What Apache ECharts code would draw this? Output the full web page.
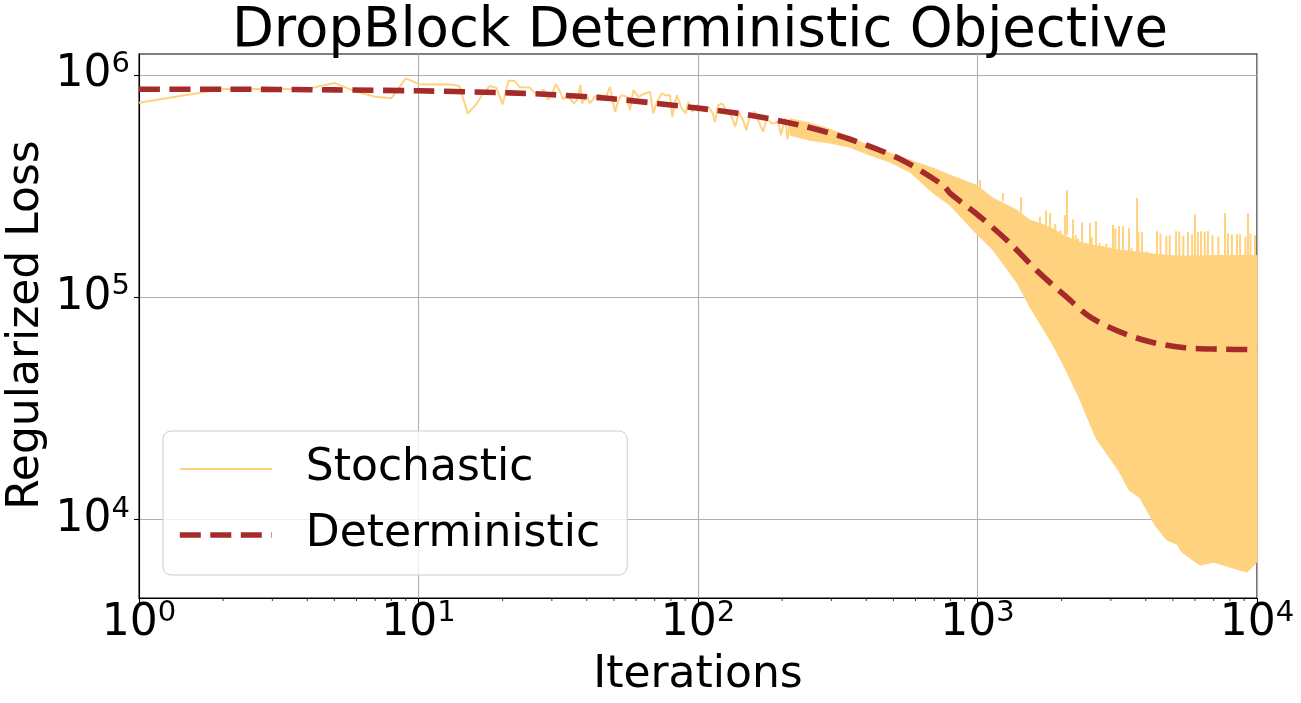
<!DOCTYPE html>
<html style="height: 100%">
<head>
<meta charset="utf-8">
</head>
<body style="height: 100%; margin: 0; background: #fff">
<div id="container" style="width: 1301px; height: 703px"></div>
<script type="text/javascript" src="https://cdn.jsdelivr.net/npm/echarts@6/dist/echarts.min.js"></script>
<script type="text/javascript">
// stochastic loss, early part: individual iterations
var stochIter = [1, 2, 3, 4, 5, 6, 7, 8, 9, 10, 11, 12, 13, 14, 15, 16, 17, 18, 19, 20, 21, 22, 23, 24,
    25, 26, 27, 28, 29, 30, 31, 32, 33, 34, 36, 37, 38, 38.5, 40, 41, 43, 44.6, 46.5, 48.4, 50.5, 51.9,
    53.3, 55.6, 57.1, 58.7, 61.2, 64.6, 67.4, 69.2, 71.2, 74.2, 76.2, 79.4, 80.9, 83.9, 87.4, 90.4, 92.3,
    95.4, 98.9, 103, 109, 113, 115, 118, 122, 127, 132, 136, 140, 145, 149, 154, 160, 164, 171, 176,
    184, 194, 198, 205, 209, 213, 219];
var stochLoss = [7.48e5, 8.64e5, 8.64e5, 8.64e5, 9.19e5, 8.38e5, 7.96e5, 7.85e5, 9.63e5, 9.10e5, 9.04e5,
    9.07e5, 9.04e5, 8.91e5, 6.70e5, 7.30e5, 8.24e5, 8.91e5, 8.73e5, 7.36e5, 9.39e5, 9.39e5, 8.82e5, 8.79e5,
    8.77e5, 8.29e5, 8.18e5, 8.59e5, 7.74e5, 8.10e5, 9.07e5, 8.47e5, 7.74e5, 8.10e5, 7.43e5, 7.74e5, 8.98e5,
    7.43e5, 8.10e5, 7.43e5, 8.01e5, 8.10e5, 7.74e5, 8.82e5, 6.81e5, 7.69e5, 8.10e5, 7.96e5, 6.93e5, 8.53e5,
    7.96e5, 8.24e5, 8.38e5, 6.70e5, 7.55e5, 8.24e5, 8.10e5, 8.10e5, 6.47e5, 8.10e5, 7.06e5, 6.70e5, 7.55e5,
    6.81e5, 7.30e5, 7.06e5, 7.17e5, 6.70e5, 6.14e5, 7.30e5, 7.43e5, 6.81e5, 6.47e5, 5.83e5, 6.81e5, 6.25e5,
    5.64e5, 6.70e5, 6.81e5, 6.25e5, 5.54e5, 6.36e5, 6.04e5, 6.14e5, 5.35e5, 6.36e5, 5.12e5, 6.25e5, 5.93e5];

// stochastic loss, dense part: lower / upper envelope of the oscillation
var bandIter = [213.4, 251.6, 296.7, 349.9, 412.6, 486.4, 573.5, 693.2, 797.3, 987.7, 1136, 1385, 1541,
    1730, 1847, 2023, 2307, 2655, 3209, 3483, 3815, 4008, 4317, 4764, 5173, 5392, 6254, 7019, 8480, 9210, 10000];
var bandLow = [5.35e5, 5.08e5, 4.93e5, 4.72e5, 4.35e5, 4.05e5, 3.65e5, 2.94e5, 2.59e5, 1.94e5, 1.63e5,
    1.16e5, 9.02e4, 7.10e4, 6.21e4, 5.00e4, 3.55e4, 2.32e4, 1.65e4, 1.36e4, 1.25e4, 1.12e4, 9.43e3, 8.08e3,
    7.75e3, 7.13e3, 6.24e3, 6.43e3, 5.98e3, 5.80e3, 6.43e3];
var bandHigh = [6.36e5, 6.06e5, 5.69e5, 5.24e5, 4.77e5, 4.44e5, 4.13e5, 3.80e5, 3.54e5, 3.19e5, 2.79e5,
    2.46e5, 2.22e5, 2.11e5, 2.04e5, 1.90e5, 1.77e5, 1.70e5, 1.63e5, 1.61e5, 1.59e5, 1.58e5, 1.56e5, 1.54e5,
    1.53e5, 1.53e5, 1.53e5, 1.54e5, 1.54e5, 1.54e5, 1.54e5];

// upward spikes above the envelope: iteration, spike top, where it leaves the body
var spikeIter = [1021, 1234, 1431, 1674, 1759, 1817, 1898, 1980, 2057, 2091, 2196, 2246, 2289, 2365, 2527,
    2560, 2655, 2730, 2808, 2887, 2969, 3054, 3114, 3209, 3316, 3483, 3562, 3722, 3767, 3878, 4040, 4387,
    4516, 4738, 4873, 5131, 5268, 5450, 5664, 5860, 6000, 6146, 6303, 6501, 6676, 6930, 7268, 7684, 7875,
    8133, 8480, 8697, 9089, 9287, 9478, 9836];
var spikeTop = [3.36e5, 2.94e5, 2.82e5, 2.30e5, 2.46e5, 2.39e5, 2.14e5, 2.00e5, 2.34e5, 3.03e5, 2.24e5,
    1.90e5, 1.84e5, 2.17e5, 2.15e5, 1.87e5, 2.20e5, 1.75e5, 1.70e5, 1.74e5, 1.67e5, 2.11e5, 2.04e5, 2.09e5,
    2.09e5, 2.04e5, 1.66e5, 2.79e5, 1.97e5, 1.96e5, 1.60e5, 1.98e5, 1.93e5, 1.89e5, 1.90e5, 1.98e5, 1.97e5,
    1.89e5, 1.96e5, 1.92e5, 2.36e5, 1.97e5, 1.98e5, 1.97e5, 1.98e5, 1.90e5, 1.87e5, 2.39e5, 1.94e5, 1.92e5,
    1.92e5, 1.92e5, 1.87e5, 2.39e5, 1.93e5, 1.90e5];
var spikeBase = [3.1e5, 2.7e5, 2.4e5, 2.1e5, 2.1e5, 2.0e5, 2.0e5, 1.9e5, 1.9e5, 1.9e5, 1.8e5, 1.75e5,
    1.75e5, 1.72e5, 1.7e5, 1.7e5, 1.7e5, 1.65e5, 1.6e5, 1.6e5, 1.6e5, 1.6e5, 1.6e5, 1.6e5, 1.6e5, 1.6e5,
    1.5e5, 1.5e5, 1.5e5, 1.5e5, 1.5e5, 1.5e5, 1.5e5, 1.5e5, 1.5e5, 1.5e5, 1.5e5, 1.5e5, 1.5e5, 1.5e5,
    1.5e5, 1.5e5, 1.5e5, 1.5e5, 1.5e5, 1.5e5, 1.5e5, 1.5e5, 1.5e5, 1.5e5, 1.5e5, 1.5e5, 1.5e5, 1.5e5,
    1.5e5, 1.5e5];

// deterministic loss
var detIter = [1, 2, 5, 10, 21.25, 29.5, 48.4, 101.7, 153.5, 231.7, 350, 528, 753, 797, 1021, 1307, 1628,
    2085, 2527, 3234, 4142, 5436, 7194, 10000];
var detLoss = [8.61e5, 8.61e5, 8.55e5, 8.47e5, 8.29e5, 8.15e5, 7.82e5, 7.06e5, 6.58e5, 5.93e5, 5.13e5,
    4.18e5, 3.19e5, 2.94e5, 2.30e5, 1.75e5, 1.32e5, 1.00e5, 8.15e4, 6.98e4, 6.30e4, 5.94e4, 5.84e4, 5.81e4];

// axis ticks
var xMajor = [1, 10, 100, 1000, 10000];
var yMajor = [1e4, 1e5, 1e6];
var xMinor = [2, 3, 4, 5, 6, 7, 8, 9, 20, 30, 40, 50, 60, 70, 80, 90, 200, 300, 400, 500, 600, 700, 800, 900,
    2000, 3000, 4000, 5000, 6000, 7000, 8000, 9000];
var yMinor = [5e3, 6e3, 7e3, 8e3, 9e3, 2e4, 3e4, 4e4, 5e4, 6e4, 7e4, 8e4, 9e4, 2e5, 3e5, 4e5, 5e5, 6e5, 7e5, 8e5, 9e5];

var X_MIN = 1, X_MAX = 10000, Y_MIN = 4440, Y_MAX = 1.24e6;
var FONT = 'DejaVu Sans';
var STOCH = '#ffd27f';
var DET = '#a52a2a';
var NONE = 'rgba(0,0,0,0)';

var dom = document.getElementById("container");
var myChart = echarts.init(dom, null, {renderer: 'canvas'});

function pairs(xs, ys) {
    return xs.map(function (x, i) { return [x, ys[i]]; });
}

// 10^n label, superscript raised with bottom padding
function expLabel(v) {
    var e = Math.round(Math.log10(v));
    return '{b|10}{s|' + e + '}';
}

var labelRich = {
    b: {fontSize: 44, lineHeight: 44, fontFamily: FONT, color: '#000'},
    s: {fontSize: 29, lineHeight: 29, fontFamily: FONT, color: '#000', padding: [0, 0, 21, 0]}
};

function renderBand(params, api) {
    if (params.dataIndex !== 0) return;
    var top = [], bottom = [];
    for (var i = 0; i < bandIter.length; i++) {
        top.push(api.coord([bandIter[i], bandHigh[i]]));
        bottom.unshift(api.coord([bandIter[i], bandLow[i]]));
    }
    return {
        type: 'polygon',
        shape: {points: top.concat(bottom)},
        style: {fill: STOCH, stroke: STOCH, lineWidth: 1}
    };
}

function renderSpike(params, api) {
    var a = api.coord([api.value(0), api.value(1)]);
    var b = api.coord([api.value(0), api.value(2)]);
    return {
        type: 'line',
        shape: {x1: a[0], y1: a[1], x2: b[0], y2: b[1]},
        style: {stroke: STOCH, lineWidth: 2}
    };
}

function renderXMinor(params, api) {
    var p = api.coord([api.value(0), Y_MIN]);
    return {type: 'line', shape: {x1: p[0], y1: p[1], x2: p[0], y2: p[1] + 3}, style: {stroke: '#000', lineWidth: 0.8}};
}

function renderYMinor(params, api) {
    var p = api.coord([X_MIN, api.value(0)]);
    return {type: 'line', shape: {x1: p[0], y1: p[1], x2: p[0] - 3, y2: p[1]}, style: {stroke: '#000', lineWidth: 0.8}};
}

option = {
    backgroundColor: '#fff',
    animation: false,
    title: {
        text: 'DropBlock Deterministic Objective',
        left: 695,
        top: -1,
        textAlign: 'center',
        textStyle: {fontFamily: FONT, fontSize: 54.5, fontWeight: 'normal', color: '#000'}
    },
    // y axis title, placed by hand
    graphic: [{
        type: 'text',
        x: 27,
        y: 325,
        rotation: Math.PI / 2,
        style: {
            text: 'Regularized Loss',
            font: '44px "DejaVu Sans"',
            fill: '#000',
            align: 'center',
            verticalAlign: 'middle'
        }
    }],
    grid: {
        left: 139, right: 44, top: 54, bottom: 105,
        containLabel: false,
        outerBoundsMode: 'none',
        show: true, borderColor: '#000', borderWidth: 1.1
    },
    legend: {
        data: [
            {name: 'Stochastic', lineStyle: {width: 2, color: STOCH},
                itemStyle: {color: NONE, borderColor: NONE, borderWidth: 0}},
            {name: 'Deterministic', lineStyle: {width: 5.6, color: DET, type: [21, 9.5], cap: 'butt'},
                itemStyle: {color: NONE, borderColor: NONE, borderWidth: 0}}
        ],
        orient: 'vertical',
        left: 163,
        top: 431,
        itemWidth: 92,
        itemHeight: 20,
        itemGap: 16,
        padding: [13, 27, 15, 14],
        backgroundColor: 'rgba(255,255,255,0.8)',
        borderColor: '#cccccc',
        borderWidth: 1,
        borderRadius: 8,
        textStyle: {fontFamily: FONT, fontSize: 44, color: '#000', lineHeight: 50, padding: [0, 0, 0, 29]}
    },
    xAxis: {
        type: 'log', logBase: 10, min: X_MIN, max: X_MAX,
        name: 'Iterations', nameLocation: 'middle', nameGap: 52,
        nameTextStyle: {fontFamily: FONT, fontSize: 44, color: '#000'},
        axisLine: {show: true, lineStyle: {color: '#000', width: 1.1}},
        axisTick: {show: true, length: 5, lineStyle: {color: '#000', width: 1.1}, customValues: xMajor},
        axisLabel: {margin: 4, formatter: expLabel, rich: labelRich, customValues: xMajor, fontFamily: FONT},
        splitLine: {show: true, lineStyle: {color: '#b0b0b0', width: 1.1}},
        minorTick: {show: false}
    },
    yAxis: {
        type: 'log', logBase: 10, min: Y_MIN, max: Y_MAX,
        axisLine: {show: true, lineStyle: {color: '#000', width: 1.1}},
        axisTick: {show: true, length: 5, lineStyle: {color: '#000', width: 1.1}, customValues: yMajor},
        axisLabel: {margin: 9, formatter: expLabel, rich: labelRich, customValues: yMajor, fontFamily: FONT},
        splitLine: {show: true, lineStyle: {color: '#b0b0b0', width: 1.1}}
    },
    series: [{
        type: 'custom',
        renderItem: renderBand,
        data: bandIter.map(function (x, i) { return [x, bandLow[i], bandHigh[i]]; }),
        encode: {x: 0, y: [1, 2]},
        silent: true,
        z: 2
    }, {
        type: 'custom',
        renderItem: renderSpike,
        data: spikeIter.map(function (x, i) { return [x, spikeTop[i], spikeBase[i]]; }),
        encode: {x: 0, y: [1, 2]},
        silent: true,
        z: 2
    }, {
        name: 'Stochastic',
        type: 'line',
        data: pairs(stochIter, stochLoss),
        showSymbol: false,
        symbol: 'none',
        lineStyle: {color: STOCH, width: 2},
        itemStyle: {color: STOCH},
        z: 2
    }, {
        name: 'Deterministic',
        type: 'line',
        data: pairs(detIter, detLoss),
        showSymbol: false,
        symbol: 'none',
        smooth: 0.3,
        lineStyle: {color: DET, width: 5.6, type: [21, 9.5], cap: 'butt'},
        itemStyle: {color: DET},
        z: 4
    }, {
        type: 'custom',
        renderItem: renderXMinor,
        data: xMinor.map(function (v) { return [v, Y_MIN]; }),
        encode: {x: 0, y: 1},
        silent: true,
        z: 5
    }, {
        type: 'custom',
        renderItem: renderYMinor,
        data: yMinor.map(function (v) { return [X_MIN, v]; }),
        encode: {x: 0, y: 1},
        silent: true,
        z: 5
    }]
};

myChart.setOption(option);
</script>
</body>
</html>
